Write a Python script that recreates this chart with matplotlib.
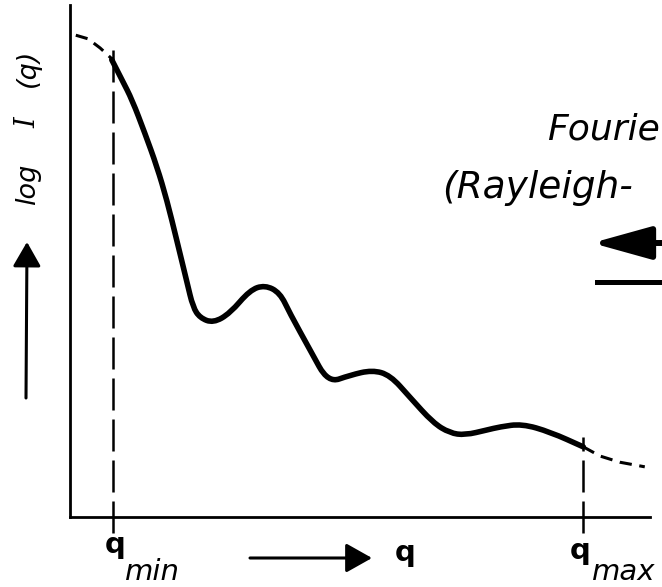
import matplotlib

matplotlib.use("Agg")

import matplotlib.pyplot as plt
from matplotlib.patches import FancyArrowPatch, PathPatch
from matplotlib.path import Path

plt.rcParams["mathtext.fontset"] = "dejavuserif"

# measured range of q
q_min = 0.74
q_max = 8.85

# scattering curve, solid part (inside the measured range)
solid_q = [0.72, 0.90, 1.07, 1.29, 1.50, 1.67, 1.84, 2.02, 2.12, 2.24, 2.47,
           2.76, 3.10, 3.36, 3.62, 3.79, 4.14, 4.45, 4.83, 5.21, 5.52, 5.86,
           6.26, 6.55, 6.81, 7.19, 7.41, 7.79, 8.28, 8.85]
solid_logI = [8.93, 8.53, 8.15, 7.50, 6.84, 6.19, 5.41, 4.57, 4.10, 3.89, 3.79,
              3.98, 4.43, 4.53, 4.38, 3.98, 3.26, 2.62, 2.77, 2.87, 2.77, 2.34,
              1.84, 1.64, 1.60, 1.70, 1.76, 1.82, 1.66, 1.37]

# extrapolated parts (dashed)
low_q = [0.10, 0.31, 0.52, 0.74]
low_logI = [9.41, 9.34, 9.16, 8.93]
high_q = [8.85, 9.14, 9.48, 9.91]
high_logI = [1.37, 1.19, 1.07, 0.98]

W, H = 662, 587


def fx(x):
    return x / W


def fy(y):
    return 1 - y / H


def smooth_path(xs, ys):
    # quadratic bezier through the midpoints, read points act as controls
    pts = list(zip(xs, ys))
    verts = [pts[0]]
    codes = [Path.MOVETO]
    for i in range(1, len(pts) - 1):
        mid = ((pts[i][0] + pts[i + 1][0]) / 2, (pts[i][1] + pts[i + 1][1]) / 2)
        verts += [pts[i], mid]
        codes += [Path.CURVE3, Path.CURVE3]
    verts.append(pts[-1])
    codes.append(Path.LINETO)
    return Path(verts, codes)


fig = plt.figure(figsize=(W / 100, H / 100), dpi=100)
ax = fig.add_axes([fx(70), fy(517), 580 / W, 512 / H])
ax.set_xlim(0, 10)
ax.set_ylim(0, 10)
ax.patch.set_alpha(0)
for side in ("top", "right"):
    ax.spines[side].set_visible(False)
for side in ("left", "bottom"):
    ax.spines[side].set_linewidth(2)
ax.set_xticks([])
ax.set_yticks([])

ax.add_patch(PathPatch(smooth_path(solid_q, solid_logI), fill=False,
                       edgecolor="black", lw=4, capstyle="round",
                       joinstyle="round"))
ax.plot(low_q, low_logI, color="black", lw=2.2, ls=(0, (4, 2.5)))
ax.plot(high_q, high_logI, color="black", lw=2.2, ls=(0, (4, 2.5)))

for qv, top in ((q_min, 9.12), (q_max, 1.56)):
    ax.plot([qv, qv], [-0.31, top], color="black", lw=1.8,
            ls=(0, (12.8, 3.6)), clip_on=False)

# y label, drawn in pieces (wide letter spacing in the original)
ylab = dict(rotation=90, rotation_mode="anchor", ha="center", va="baseline",
            fontsize=19.5, style="italic")
fig.text(fx(35), fy(184), "log", **ylab)
fig.text(fx(35), fy(121), "$I$", **ylab)
fig.text(fx(35), fy(68), "(q)", **ylab)

# x labels
fig.text(fx(105), fy(553), "q", fontsize=21, fontweight="bold", va="baseline")
fig.text(fx(125), fy(580), "min", fontsize=21, style="italic", va="baseline")
fig.text(fx(570), fy(559), "q", fontsize=21, fontweight="bold", va="baseline")
fig.text(fx(592), fy(580), "max", fontsize=21, style="italic", va="baseline")
fig.text(fx(395), fy(561), "q", fontsize=21, fontweight="bold", va="baseline")

# right-hand annotation, as much of it as the page shows
fig.text(fx(547), fy(140), "Fourie", fontsize=26, style="italic",
         va="baseline")
fig.text(fx(442), fy(198), "(Rayleigh-", fontsize=27, style="italic",
         va="baseline")


def arrow(p0, p1, lw, hl, hw):
    a = FancyArrowPatch((fx(p0[0]), fy(p0[1])), (fx(p1[0]), fy(p1[1])),
                        transform=fig.transFigure, color="black", lw=lw,
                        arrowstyle=f"-|>,head_length={hl},head_width={hw}",
                        shrinkA=0, shrinkB=0, mutation_scale=1)
    fig.add_artist(a)


arrow((250, 558), (372, 558), 2.2, 16, 9)
arrow((26, 398), (27, 242), 2.2, 15, 8.6)
arrow((720, 243), (592, 243), 4.3, 36, 10)
fig.add_artist(plt.Line2D([fx(597), fx(700)], [fy(282), fy(282)],
                          transform=fig.transFigure, color="black", lw=3.6))

fig.savefig("out.png", dpi=100, facecolor="white")
